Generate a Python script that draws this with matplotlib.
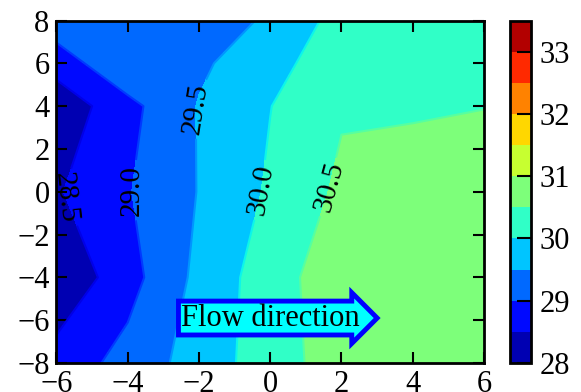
import numpy as np
import matplotlib
matplotlib.use("Agg")
import matplotlib.pyplot as plt

plt.rcParams['font.family'] = ['Liberation Serif', 'DejaVu Serif']

# grid of measurement positions
x_pos = [-6, -4, -2, 0, 2, 4, 6]
y_pos = [-8, -4, 0, 4, 6, 8]

# temperature values (rows follow y_pos, columns follow x_pos)
row_y_m8 = [28.71, 29.17, 29.73, 30.25, 30.77, 30.80, 30.80]
row_y_m4 = [28.07, 28.81, 29.63, 30.27, 30.82, 30.85, 30.85]
row_y_0 = [28.45, 28.97, 29.52, 30.07, 30.60, 30.70, 30.75]
row_y_4 = [28.15, 28.85, 29.53, 29.99, 30.45, 30.45, 30.49]
row_y_6 = [28.72, 29.43, 29.42, 29.80, 30.35, 30.40, 30.45]
row_y_8 = [29.30, 29.30, 29.35, 29.54, 30.20, 30.30, 30.35]

levels = [28.0, 28.5, 29.0, 29.5, 30.0, 30.5, 31.0, 31.5, 32.0, 32.5, 33.0, 33.5]
line_levels = [28.5, 29.0, 29.5, 30.0, 30.5]
cbar_ticks = [28, 29, 30, 31, 32, 33]
label_pos = [(-5.8, -0.3), (-4.0, 0.1), (-2.1, 3.9), (-0.4, 0.1), (1.45, 0.3)]

X, Y = np.meshgrid(x_pos, y_pos)
Z = np.array([row_y_m8, row_y_m4, row_y_0, row_y_4, row_y_6, row_y_8])

fig = plt.figure(figsize=(5.81, 3.92), dpi=100)
ax = fig.add_axes([0.0972, 0.074, 0.7358, 0.8737])
cf = ax.contourf(X, Y, Z, levels=levels, cmap='jet')
cl = ax.contour(X, Y, Z, levels=line_levels, cmap='jet', norm=cf.norm,
                linewidths=1.5)
ax.clabel(cl, colors='k', fmt='%.1f', fontsize=21, manual=label_pos,
          inline=True)

ax.set_xlim(-6, 6)
ax.set_ylim(-8, 8)
ax.set_xticks([-6, -4, -2, 0, 2, 4, 6])
ax.set_yticks([-8, -6, -4, -2, 0, 2, 4, 6, 8])
ax.tick_params(direction='in', length=8, width=1.5, labelsize=22,
               top=True, right=True, pad=5)
for s in ax.spines.values():
    s.set_linewidth(2)

ax.text(0.0, -5.9, "Flow direction", ha='center', va='center', fontsize=22,
        bbox=dict(boxstyle='rarrow,pad=0.08', fc='cyan', ec='blue', lw=3.5))

cax = fig.add_axes([0.878, 0.074, 0.036, 0.8737])
cb = fig.colorbar(cf, cax=cax, ticks=cbar_ticks)
cb.ax.tick_params(direction='in', length=10, width=1.5, labelsize=22, pad=6)
cb.outline.set_linewidth(2)

fig.savefig("out.png", dpi=100)
